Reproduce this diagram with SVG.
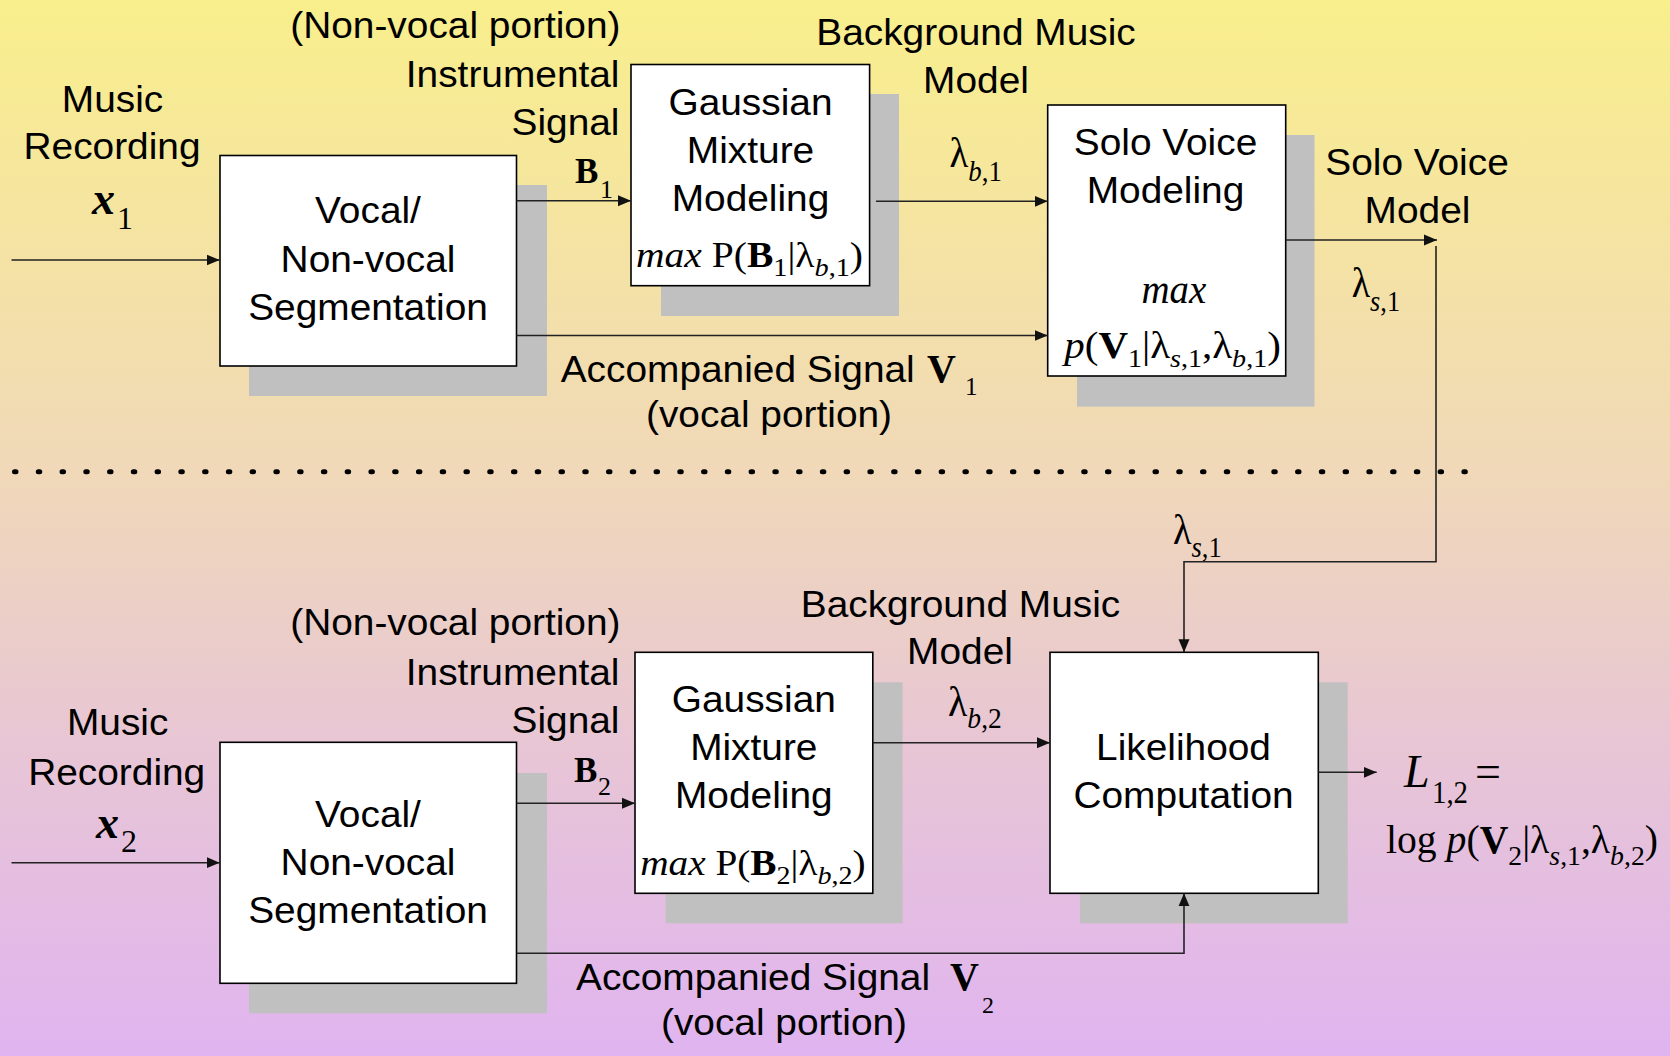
<svg xmlns="http://www.w3.org/2000/svg" width="1670" height="1056" viewBox="0 0 1670 1056">
  <defs>
    <linearGradient id="bg" x1="0" y1="0" x2="0" y2="1">
      <stop offset="0" stop-color="#F9EF8C"/>
      <stop offset="0.45" stop-color="#F0D8B9"/>
      <stop offset="0.7" stop-color="#E8C6D4"/>
      <stop offset="1" stop-color="#E0B4F0"/>
    </linearGradient>
    <marker id="arrow" markerUnits="userSpaceOnUse" markerWidth="14" markerHeight="12" refX="13" refY="6" orient="auto">
      <path d="M0,0.5 L13,6 L0,11.5 z" fill="#111"/>
    </marker>
    <style>
      .t { font-family: "Liberation Sans", Arial, sans-serif; font-size: 37px; fill: #000; }
      .m { font-family: "Liberation Serif", "Times New Roman", serif; fill: #000; }
      .box { fill: #fff; stroke: #000; stroke-width: 1.6; }
      .shadow { fill: #C0C0C0; }
      .wire { fill: none; stroke: #222; stroke-width: 1.6; }
      .arr { marker-end: url(#arrow); }
    </style>
  </defs>

  <!-- background -->
  <rect x="0" y="0" width="1670" height="1056" fill="url(#bg)"/>

  <!-- separator between the training stage and the test stage -->
  <line x1="14.5" y1="471.7" x2="1467" y2="471.7" stroke="#000" stroke-width="5" stroke-linecap="round" stroke-dasharray="1.5 22.26"/>

  <!-- ===== upper stage ===== -->
  <g id="seg1">
    <rect class="shadow" x="249" y="185" width="298" height="211"/>
    <rect class="box" x="220" y="155.5" width="296.5" height="210.5"/>
    <text class="t" text-anchor="middle" transform="translate(368 223.3) scale(1.05 1)">Vocal/</text>
    <text class="t" text-anchor="middle" transform="translate(368 271.7) scale(1.05 1)">Non-vocal</text>
    <text class="t" text-anchor="middle" transform="translate(368 320) scale(1.05 1)">Segmentation</text>
  </g>

  <g id="gmm1">
    <rect class="shadow" x="661" y="94" width="238" height="222"/>
    <rect class="box" x="631" y="64.5" width="238.6" height="221.2"/>
    <text class="t" text-anchor="middle" transform="translate(750.5 115) scale(1.05 1)">Gaussian</text>
    <text class="t" text-anchor="middle" transform="translate(750.5 162.7) scale(1.05 1)">Mixture</text>
    <text class="t" text-anchor="middle" transform="translate(750.5 210.7) scale(1.05 1)">Modeling</text>
    <text class="m" x="636" y="266.7" font-size="35" textLength="227" lengthAdjust="spacingAndGlyphs"><tspan font-style="italic">max</tspan> P(<tspan font-weight="bold">B</tspan><tspan font-size="25" dy="9">1</tspan><tspan dy="-9">|λ</tspan><tspan font-size="25" dy="9"><tspan font-style="italic">b</tspan>,1</tspan><tspan dy="-9">)</tspan></text>
  </g>

  <g id="solo1">
    <rect class="shadow" x="1077" y="135" width="237.5" height="271.7"/>
    <rect class="box" x="1047.7" y="105" width="238" height="271"/>
    <text class="t" text-anchor="middle" transform="translate(1165.5 155) scale(1.05 1)">Solo Voice</text>
    <text class="t" text-anchor="middle" transform="translate(1165.5 203.3) scale(1.05 1)">Modeling</text>
    <text class="m" x="1141.5" y="303.3" font-size="42" font-style="italic" textLength="64.7" lengthAdjust="spacingAndGlyphs">max</text>
    <text class="m" x="1064.3" y="358.3" font-size="38" textLength="216.5" lengthAdjust="spacingAndGlyphs"><tspan font-style="italic">p</tspan>(<tspan font-weight="bold">V</tspan><tspan font-size="26" dy="9">1</tspan><tspan dy="-9">|λ</tspan><tspan font-size="26" dy="9"><tspan font-style="italic">s</tspan>,1</tspan><tspan dy="-9">,λ</tspan><tspan font-size="26" dy="9"><tspan font-style="italic">b</tspan>,1</tspan><tspan dy="-9">)</tspan></text>
  </g>

  <g id="labels1">
    <text class="t" text-anchor="middle" transform="translate(112.5 111.5) scale(1.05 1)">Music</text>
    <text class="t" text-anchor="middle" transform="translate(112 159.3) scale(1.05 1)">Recording</text>
    <text class="m" x="92" y="214" font-size="46" font-weight="bold" font-style="italic">x</text>
    <text class="m" x="117" y="229" font-size="32">1</text>

    <text class="t" text-anchor="end" transform="translate(620.5 38.3) scale(1.05 1)">(Non-vocal portion)</text>
    <text class="t" text-anchor="end" transform="translate(619.5 87.3) scale(1.05 1)">Instrumental</text>
    <text class="t" text-anchor="end" transform="translate(619.5 135) scale(1.05 1)">Signal</text>
    <text class="m" x="575" y="183.3" font-size="35" font-weight="bold">B</text>
    <text class="m" x="600" y="198.3" font-size="26">1</text>

    <text class="t" text-anchor="middle" transform="translate(976 45) scale(1.05 1)">Background Music</text>
    <text class="t" text-anchor="middle" transform="translate(976 92.7) scale(1.05 1)">Model</text>
    <text class="m" x="949.5" y="167" font-size="42" textLength="52.3" lengthAdjust="spacingAndGlyphs">λ<tspan font-size="29" dy="14"><tspan font-style="italic">b</tspan>,1</tspan></text>

    <text class="t" text-anchor="middle" transform="translate(1417 175) scale(1.05 1)">Solo Voice</text>
    <text class="t" text-anchor="middle" transform="translate(1417.5 223.3) scale(1.05 1)">Model</text>
    <text class="m" x="1351.7" y="296.7" font-size="42" textLength="48.3" lengthAdjust="spacingAndGlyphs">λ<tspan font-size="29" dy="14"><tspan font-style="italic">s</tspan>,1</tspan></text>

    <text class="t" transform="translate(560.7 381.7) scale(1.05 1)">Accompanied Signal</text>
    <text class="m" x="927" y="381.7" font-size="40" font-weight="bold">V</text>
    <text class="m" x="965" y="395" font-size="25">1</text>
    <text class="t" text-anchor="middle" transform="translate(769 426.7) scale(1.05 1)">(vocal portion)</text>
  </g>

  <!-- ===== lower stage ===== -->
  <g id="seg2">
    <rect class="shadow" x="249" y="773" width="298" height="240.3"/>
    <rect class="box" x="220" y="742.3" width="296.5" height="241"/>
    <text class="t" text-anchor="middle" transform="translate(368 826.7) scale(1.05 1)">Vocal/</text>
    <text class="t" text-anchor="middle" transform="translate(368 875) scale(1.05 1)">Non-vocal</text>
    <text class="t" text-anchor="middle" transform="translate(368 923.3) scale(1.05 1)">Segmentation</text>
  </g>

  <g id="gmm2">
    <rect class="shadow" x="665.6" y="682.3" width="237" height="241"/>
    <rect class="box" x="635" y="652.3" width="237.8" height="241"/>
    <text class="t" text-anchor="middle" transform="translate(753.8 711.7) scale(1.05 1)">Gaussian</text>
    <text class="t" text-anchor="middle" transform="translate(753.8 760) scale(1.05 1)">Mixture</text>
    <text class="t" text-anchor="middle" transform="translate(753.8 808.3) scale(1.05 1)">Modeling</text>
    <text class="m" x="640.2" y="875" font-size="35" textLength="225.4" lengthAdjust="spacingAndGlyphs"><tspan font-style="italic">max</tspan> P(<tspan font-weight="bold">B</tspan><tspan font-size="25" dy="9">2</tspan><tspan dy="-9">|λ</tspan><tspan font-size="25" dy="9"><tspan font-style="italic">b</tspan>,2</tspan><tspan dy="-9">)</tspan></text>
  </g>

  <g id="likelihood">
    <rect class="shadow" x="1080" y="682.3" width="267.7" height="241"/>
    <rect class="box" x="1050" y="652.3" width="268.3" height="241"/>
    <text class="t" text-anchor="middle" transform="translate(1183.5 760) scale(1.05 1)">Likelihood</text>
    <text class="t" text-anchor="middle" transform="translate(1183.5 808.3) scale(1.05 1)">Computation</text>
  </g>

  <g id="labels2">
    <text class="m" x="1173" y="544" font-size="42" textLength="48.7" lengthAdjust="spacingAndGlyphs">λ<tspan font-size="29" dy="13"><tspan font-style="italic">s</tspan>,1</tspan></text>

    <text class="t" text-anchor="middle" transform="translate(960.5 616.7) scale(1.05 1)">Background Music</text>
    <text class="t" text-anchor="middle" transform="translate(960 664) scale(1.05 1)">Model</text>
    <text class="m" x="948" y="716" font-size="42" textLength="53.8" lengthAdjust="spacingAndGlyphs">λ<tspan font-size="29" dy="12"><tspan font-style="italic">b</tspan>,2</tspan></text>

    <text class="t" text-anchor="end" transform="translate(620.5 635) scale(1.05 1)">(Non-vocal portion)</text>
    <text class="t" text-anchor="end" transform="translate(619.5 685) scale(1.05 1)">Instrumental</text>
    <text class="t" text-anchor="end" transform="translate(619.5 733.3) scale(1.05 1)">Signal</text>
    <text class="m" x="574" y="781.7" font-size="35" font-weight="bold">B</text>
    <text class="m" x="598" y="795" font-size="26">2</text>

    <text class="t" text-anchor="middle" transform="translate(117.7 735) scale(1.05 1)">Music</text>
    <text class="t" text-anchor="middle" transform="translate(116.7 785) scale(1.05 1)">Recording</text>
    <text class="m" x="96" y="838.3" font-size="46" font-weight="bold" font-style="italic">x</text>
    <text class="m" x="121" y="852" font-size="32">2</text>

    <text class="m" x="1404" y="786.7" font-size="46" font-style="italic">L</text>
    <text class="m" x="1432" y="803.3" font-size="31" textLength="36" lengthAdjust="spacingAndGlyphs">1,2</text>
    <text class="m" x="1475" y="786.7" font-size="46">=</text>
    <text class="m" x="1386" y="853.3" font-size="40" textLength="272" lengthAdjust="spacingAndGlyphs">log <tspan font-style="italic">p</tspan>(<tspan font-weight="bold">V</tspan><tspan font-size="28" dy="12">2</tspan><tspan dy="-12">|λ</tspan><tspan font-size="28" dy="12"><tspan font-style="italic">s</tspan>,1</tspan><tspan dy="-12">,λ</tspan><tspan font-size="28" dy="12"><tspan font-style="italic">b</tspan>,2</tspan><tspan dy="-12">)</tspan></text>

    <text class="t" transform="translate(576 990) scale(1.05 1)">Accompanied Signal</text>
    <text class="m" x="950" y="990" font-size="40" font-weight="bold">V</text>
    <text class="m" x="982" y="1013" font-size="24">2</text>
    <text class="t" text-anchor="middle" transform="translate(784 1035) scale(1.05 1)">(vocal portion)</text>
  </g>

  <!-- ===== connectors ===== -->
  <g id="connectors">
    <line class="wire arr" x1="11.5" y1="260" x2="219.7" y2="260"/>
    <line class="wire arr" x1="516.5" y1="200.7" x2="631" y2="200.7"/>
    <line class="wire arr" x1="516.5" y1="335.5" x2="1047.7" y2="335.5"/>
    <line class="wire arr" x1="876" y1="201.3" x2="1047.7" y2="201.3"/>
    <line class="wire arr" x1="1285.7" y1="240" x2="1437" y2="240"/>
    <path class="wire arr" d="M1436,246 V561.7 H1184 V652.3"/>

    <line class="wire arr" x1="11.5" y1="862.7" x2="219.7" y2="862.7"/>
    <line class="wire arr" x1="516.5" y1="803.3" x2="635" y2="803.3"/>
    <line class="wire arr" x1="872.8" y1="742.7" x2="1050" y2="742.7"/>
    <path class="wire arr" d="M516.5,953.3 H1184 V893.3"/>
    <line class="wire arr" x1="1318.3" y1="772.3" x2="1376.7" y2="772.3"/>
  </g>
</svg>
